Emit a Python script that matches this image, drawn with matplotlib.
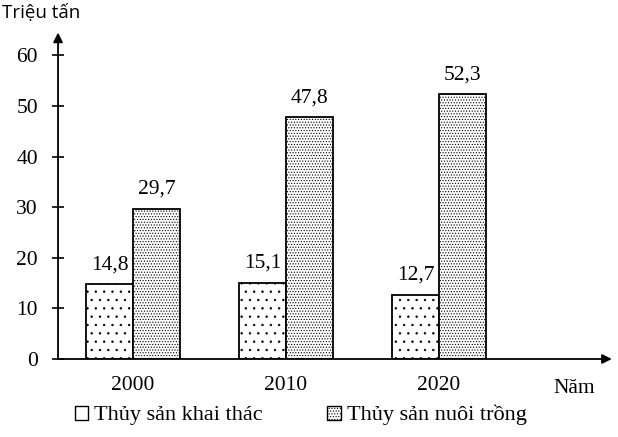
import numpy as np
import matplotlib
matplotlib.use("Agg")
import matplotlib.pyplot as plt
from matplotlib.patches import Patch

years = ["2000", "2010", "2020"]
khai_thac = [14.8, 15.1, 12.7]
nuoi_trong = [29.7, 47.8, 52.3]
series_names = ["Thủy sản khai thác", "Thủy sản nuôi trồng"]
yticks = [0, 10, 20, 30, 40, 50, 60]

plt.rcParams["font.family"] = ["Liberation Serif", "DejaVu Serif"]
plt.rcParams["hatch.linewidth"] = 0.5

fig = plt.figure(figsize=(6.18, 4.37), dpi=100)
ax = fig.add_axes([0.0939, 0.1785, 0.8961, 0.747])

x = np.arange(len(years))
w = 0.307
b1 = ax.bar(x - w / 2, khai_thac, w, facecolor="white", edgecolor="black",
            linewidth=1.3, hatch=". .")
b2 = ax.bar(x + w / 2, nuoi_trong, w, facecolor="white", edgecolor="black",
            linewidth=1.3, hatch="......")

for bars, vals in [(b1, khai_thac), (b2, nuoi_trong)]:
    for r, v in zip(bars, vals):
        ax.annotate(f"{v:.1f}".replace(".", ","),
                    (r.get_x() + r.get_width() / 2, v),
                    xytext=(0, 7), textcoords="offset points",
                    ha="center", va="bottom", fontsize=15.5)

ax.set_xlim(-0.49, 3.13)
ax.set_ylim(0, 64.5)
for s in ax.spines.values():
    s.set_visible(False)

# axes with arrows
ax.annotate("", xy=(0, 1.0), xytext=(0, 0), xycoords="axes fraction",
            arrowprops=dict(arrowstyle="-|>", color="black", lw=1.3,
                            mutation_scale=14, shrinkA=0, shrinkB=0))
ax.annotate("", xy=(1.0, 0), xytext=(0, 0), xycoords="axes fraction",
            arrowprops=dict(arrowstyle="-|>", color="black", lw=1.3,
                            mutation_scale=14, shrinkA=0, shrinkB=0))

ax.set_yticks(yticks)
ax.tick_params(axis="y", direction="inout", length=9, width=1.2,
               labelsize=15.5, pad=10)
ax.set_xticks(x)
ax.set_xticklabels(years)
ax.tick_params(axis="x", length=0, labelsize=15.5, pad=12)

fig.text(0.004, 0.972, "Triệu tấn", fontsize=13.5,
         family=["Open Sans", "DejaVu Sans"], ha="left", va="center")
fig.text(0.930, 0.110, "Năm", fontsize=15.5, ha="center", va="center")

handles = [Patch(facecolor="white", edgecolor="black", lw=1.0),
           Patch(facecolor="white", edgecolor="black", lw=1.0, hatch="......")]
fig.legend(handles, series_names, loc="center left",
           bbox_to_anchor=(0.121, 0.05), ncol=2, frameon=False,
           fontsize=16, handlelength=0.6, handleheight=0.6,
           handletextpad=0.27, columnspacing=2.9, borderpad=0,
           borderaxespad=0)

fig.savefig("out.png", dpi=100)
